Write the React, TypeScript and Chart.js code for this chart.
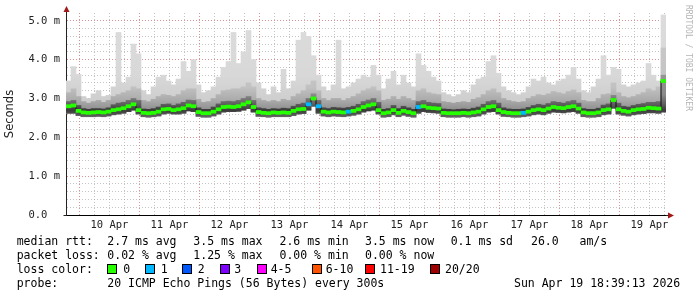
import React, { useEffect, useRef } from "react";
import { Chart, registerables } from "chart.js";

Chart.register(...registerables);

// ---- time axis (hours since Apr 9 00:00) ----
const START_HOUR = 18.65; // Apr 9 18:39
const END_HOUR = 258.65; // Apr 19 18:39
const STEP_HOURS = 2;

// ---- series (ms), one value per 2-hour column ----
const median = [
  2.80, 2.82, 2.68, 2.64, 2.63, 2.64, 2.65, 2.64, 2.66, 2.70,
  2.72, 2.75, 2.80, 2.85, 2.70, 2.63, 2.62, 2.63, 2.66, 2.72,
  2.73, 2.70, 2.72, 2.75, 2.82, 2.80, 2.65, 2.62, 2.62, 2.66,
  2.72, 2.78, 2.79, 2.78, 2.80, 2.85, 2.90, 2.78, 2.65, 2.63,
  2.62, 2.64, 2.63, 2.64, 2.63, 2.68, 2.72, 2.73, 2.85, 3.00,
  2.80, 2.66, 2.64, 2.66, 2.65, 2.64, 2.66, 2.68, 2.72, 2.78,
  2.82, 2.85, 2.70, 2.62, 2.64, 2.70, 2.63, 2.68, 2.65, 2.62,
  2.78, 2.80, 2.76, 2.75, 2.74, 2.63, 2.62, 2.62, 2.62, 2.63,
  2.62, 2.64, 2.66, 2.72, 2.78, 2.80, 2.70, 2.65, 2.63, 2.62,
  2.62, 2.63, 2.66, 2.70, 2.72, 2.70, 2.74, 2.78, 2.76, 2.75,
  2.78, 2.80, 2.74, 2.64, 2.62, 2.62, 2.64, 2.70, 2.72, 2.96,
  2.72, 2.68, 2.66, 2.70, 2.72, 2.73, 2.76, 2.75, 2.74, 3.45,
];

const pingMin = [
  2.62, 2.62, 2.56, 2.53, 2.53, 2.53, 2.54, 2.53, 2.55, 2.58,
  2.60, 2.62, 2.66, 2.70, 2.60, 2.53, 2.52, 2.53, 2.55, 2.60,
  2.62, 2.60, 2.60, 2.62, 2.68, 2.66, 2.54, 2.52, 2.52, 2.55,
  2.60, 2.65, 2.66, 2.66, 2.67, 2.70, 2.74, 2.65, 2.54, 2.53,
  2.52, 2.53, 2.53, 2.53, 2.53, 2.56, 2.60, 2.61, 2.70, 2.80,
  2.62, 2.55, 2.53, 2.55, 2.54, 2.53, 2.55, 2.57, 2.60, 2.65,
  2.68, 2.70, 2.60, 2.52, 2.53, 2.58, 2.53, 2.57, 2.54, 2.52,
  2.62, 2.66, 2.64, 2.63, 2.62, 2.53, 2.52, 2.52, 2.52, 2.53,
  2.52, 2.53, 2.55, 2.60, 2.65, 2.66, 2.60, 2.54, 2.53, 2.52,
  2.52, 2.53, 2.55, 2.58, 2.60, 2.58, 2.62, 2.65, 2.64, 2.63,
  2.65, 2.66, 2.62, 2.53, 2.52, 2.52, 2.53, 2.58, 2.60, 2.75,
  2.60, 2.57, 2.55, 2.58, 2.60, 2.61, 2.63, 2.63, 2.62, 2.65,
];

const pingP75 = [
  2.92, 2.95, 2.82, 2.74, 2.72, 2.74, 2.74, 2.73, 2.76, 2.84,
  2.88, 2.90, 2.95, 3.00, 2.95, 2.73, 2.72, 2.74, 2.78, 2.85,
  2.86, 2.82, 2.86, 2.90, 2.96, 2.95, 2.76, 2.72, 2.72, 2.78,
  2.86, 2.92, 2.93, 2.92, 2.95, 3.00, 3.05, 2.95, 2.76, 2.74,
  2.72, 2.74, 2.73, 2.75, 2.74, 2.80, 2.85, 2.88, 3.00, 3.12,
  2.95, 2.76, 2.74, 2.77, 2.76, 2.75, 2.77, 2.80, 2.85, 2.92,
  2.96, 3.00, 2.90, 2.72, 2.74, 2.82, 2.74, 2.80, 2.76, 2.72,
  2.92, 2.95, 2.90, 2.88, 2.87, 2.73, 2.72, 2.71, 2.72, 2.73,
  2.72, 2.75, 2.78, 2.85, 2.92, 2.95, 2.88, 2.76, 2.73, 2.72,
  2.72, 2.73, 2.77, 2.82, 2.85, 2.83, 2.87, 2.92, 2.90, 2.88,
  2.92, 2.95, 2.88, 2.74, 2.72, 2.72, 2.75, 2.83, 2.86, 3.08,
  2.88, 2.80, 2.78, 2.82, 2.85, 2.87, 2.90, 2.90, 2.92, 3.60,
];

const pingP90 = [
  3.15, 3.25, 3.05, 2.92, 2.88, 2.92, 2.95, 2.90, 2.95, 3.05,
  3.10, 3.15, 3.20, 3.30, 3.25, 2.95, 2.92, 2.98, 3.05, 3.10,
  3.08, 3.05, 3.10, 3.20, 3.25, 3.25, 2.98, 2.90, 2.92, 3.00,
  3.10, 3.20, 3.22, 3.25, 3.25, 3.30, 3.40, 3.30, 3.00, 2.95,
  2.92, 2.95, 2.92, 2.98, 2.95, 3.05, 3.12, 3.20, 3.35, 3.45,
  3.20, 3.00, 2.95, 3.00, 3.00, 2.95, 3.00, 3.05, 3.12, 3.20,
  3.25, 3.30, 3.20, 2.95, 2.98, 3.05, 2.98, 3.05, 3.00, 2.95,
  3.20, 3.25, 3.15, 3.12, 3.10, 2.92, 2.90, 2.88, 2.90, 2.92,
  2.90, 2.98, 3.02, 3.10, 3.20, 3.25, 3.15, 3.00, 2.95, 2.92,
  2.90, 2.92, 3.00, 3.05, 3.10, 3.08, 3.12, 3.18, 3.15, 3.12,
  3.18, 3.22, 3.15, 2.95, 2.92, 2.92, 3.00, 3.10, 3.12, 3.40,
  3.15, 3.05, 3.02, 3.05, 3.10, 3.15, 3.25, 3.20, 3.30, 4.30,
];

const pingMax = [
  3.45, 3.82, 3.62, 3.05, 3.00, 3.12, 3.20, 3.05, 3.08, 3.30,
  4.70, 3.40, 3.55, 4.40, 4.15, 3.20, 3.10, 3.30, 3.55, 3.60,
  3.45, 3.35, 3.50, 3.95, 3.70, 4.00, 3.35, 3.15, 3.20, 3.30,
  3.55, 3.80, 3.95, 4.70, 3.90, 4.20, 4.75, 4.00, 3.40, 3.25,
  3.10, 3.30, 3.15, 3.75, 3.25, 3.45, 4.50, 4.70, 4.60, 4.10,
  3.60, 3.30, 3.20, 3.35, 4.50, 3.25, 3.30, 3.40, 3.50, 3.60,
  3.55, 3.85, 3.60, 3.25, 3.50, 3.70, 3.35, 3.60, 3.40, 3.30,
  4.15, 3.85, 3.70, 3.55, 3.45, 3.15, 3.10, 3.05, 3.10, 3.20,
  3.15, 3.35, 3.50, 3.55, 3.95, 4.10, 3.65, 3.30, 3.20, 3.15,
  3.10, 3.15, 3.30, 3.50, 3.45, 3.55, 3.40, 3.35, 3.45, 3.50,
  3.60, 3.80, 3.50, 3.20, 3.15, 3.30, 3.50, 4.10, 3.60, 3.80,
  3.75, 3.35, 3.30, 3.35, 3.40, 3.45, 3.90, 3.60, 3.45, 5.15,
];

const lossCount = [
  0, 0, 0, 0, 0, 0, 0, 0, 0, 0,
  0, 0, 0, 0, 0, 0, 0, 0, 0, 0,
  0, 0, 0, 0, 0, 0, 0, 0, 0, 0,
  0, 0, 0, 0, 0, 0, 0, 0, 0, 0,
  0, 0, 0, 0, 0, 0, 0, 0, 1, 0,
  1, 0, 0, 0, 0, 0, 1, 0, 0, 0,
  0, 0, 0, 0, 0, 0, 0, 0, 0, 0,
  1, 0, 0, 0, 0, 0, 0, 0, 0, 0,
  0, 0, 0, 0, 0, 0, 0, 0, 0, 0,
  0, 1, 0, 0, 0, 0, 0, 0, 0, 0,
  0, 0, 0, 0, 0, 0, 0, 0, 0, 0,
  0, 0, 0, 0, 0, 0, 0, 0, 0, 0,
];

// ---- ticks ----
const yTickValues = [
  0, 0.2, 0.4, 0.6, 0.8, 1.0, 1.2, 1.4, 1.6, 1.8, 2.0, 2.2, 2.4, 2.6, 2.8,
  3.0, 3.2, 3.4, 3.6, 3.8, 4.0, 4.2, 4.4, 4.6, 4.8, 5.0,
];
const xTickHours = [
  24, 30, 36, 42, 48, 54, 60, 66, 72, 78, 84, 90, 96, 102, 108, 114, 120,
  126, 132, 138, 144, 150, 156, 162, 168, 174, 180, 186, 192, 198, 204, 210,
  216, 222, 228, 234, 240, 246, 252, 258,
];
const dayLabels = [
  "10 Apr", "11 Apr", "12 Apr", "13 Apr", "14 Apr",
  "15 Apr", "16 Apr", "17 Apr", "18 Apr", "19 Apr",
];

// ---- legend / text ----
const lossColors = ["#26ff00", "#00b8ff", "#0059ff", "#7e00ff", "#ff00ff", "#ff5500", "#ff0000", "#a10000"];
const lossLabels = ["0", "1", "2", "3", "4-5", "6-10", "11-19", "20/20"];
const rttItems = ["2.7 ms avg", "3.5 ms max", "2.6 ms min", "3.5 ms now", "0.1 ms sd", "26.0   am/s"];
const lossItems = ["0.02 % avg", "1.25 % max", "0.00 % min", "0.00 % now"];
const probeText = "20 ICMP Echo Pings (56 Bytes) every 300s";
const stampText = "Sun Apr 19 18:39:13 2026";

const MONO = "'DejaVu Sans Mono', monospace";
const statX = [107.3, 193.3, 279.5, 365, 450.7, 531];
const swatchX = [107.3, 144.7, 181.7, 219.5, 256.7, 312.3, 365, 430];
const swatchLabelX = [123.3, 160.7, 197.7, 234.3, 270.7, 325.7, 380, 445];

const MINOR = "rgba(150,150,150,0.55)";
const MAJOR = "rgba(210,110,110,0.75)";

// vertical shading for smoke bands (style only)
const darkStops: [number, string][] = [[2.5, "#6a6a6a"], [2.7, "#3a3a3a"], [2.85, "#5e5e5e"], [3.1, "#8a8a8a"], [3.8, "#9a9a9a"]];
const midStops: [number, string][] = [[2.7, "#8e8e8e"], [2.95, "#aaaaaa"], [3.3, "#c2c2c2"], [4.4, "#c8c8c8"]];
const lightStops: [number, string][] = [[3.0, "#cfcfcf"], [3.6, "#d8d8d8"], [5.2, "#dcdcdc"]];

function vGrad(stops: [number, string][]) {
  return (c: any) => {
    const chart = c.chart;
    if (!chart.chartArea) return stops[0][1];
    const y = chart.scales.y;
    const v0 = stops[0][0];
    const v1 = stops[stops.length - 1][0];
    const g = chart.ctx.createLinearGradient(0, y.getPixelForValue(v0), 0, y.getPixelForValue(v1));
    stops.forEach(([v, col]) => g.addColorStop((v - v0) / (v1 - v0), col));
    return g;
  };
}

const arrowPlugin = {
  id: "axisArrows",
  afterDraw(chart: any) {
    const { ctx, chartArea } = chart;
    const x0 = Math.round(chartArea.left) + 0.5;
    const y0 = Math.round(chartArea.bottom) + 0.5;
    ctx.save();
    ctx.strokeStyle = "#222";
    ctx.lineWidth = 1;
    ctx.beginPath();
    ctx.moveTo(x0, chartArea.top);
    ctx.lineTo(x0, chartArea.top - 2);
    ctx.moveTo(chartArea.right, y0);
    ctx.lineTo(chartArea.right + 3, y0);
    ctx.moveTo(x0 - 3, y0);
    ctx.lineTo(x0, y0);
    ctx.stroke();
    ctx.fillStyle = "#a01818";
    ctx.beginPath();
    ctx.moveTo(x0, chartArea.top - 7);
    ctx.lineTo(x0 - 3, chartArea.top - 1);
    ctx.lineTo(x0 + 3, chartArea.top - 1);
    ctx.closePath();
    ctx.fill();
    ctx.beginPath();
    ctx.moveTo(chartArea.right + 8, y0);
    ctx.lineTo(chartArea.right + 2, y0 - 3);
    ctx.lineTo(chartArea.right + 2, y0 + 3);
    ctx.closePath();
    ctx.fill();
    ctx.restore();
  },
};

function isInt(v: number) {
  return Math.abs(v - Math.round(v)) < 1e-6;
}

export default function App() {
  const canvasRef = useRef<HTMLCanvasElement>(null);

  useEffect(() => {
    const xs = median.map((_, i) => START_HOUR + STEP_HOURS * (i + 0.5));
    const band = (lo: number[], hi: number[]) => xs.map((x, i) => ({ x, y: [lo[i], hi[i]] }));
    const barCommon = {
      type: "bar" as const,
      grouped: false,
      barPercentage: 1,
      categoryPercentage: 1,
      borderWidth: 0,
    };

    const chart = new Chart(canvasRef.current!, {
      type: "bar",
      data: {
        datasets: [
          {
            ...barCommon,
            label: "median",
            data: xs.map((x, i) => ({ x, y: [median[i] - 0.04, median[i] + 0.04] })),
            backgroundColor: lossCount.map((l) => lossColors[l]),
            order: 0,
          } as any,
          {
            type: "line",
            label: "median step",
            data: xs.map((x, i) => ({ x, y: median[i] })),
            stepped: "middle",
            borderColor: "#111",
            borderWidth: 1,
            pointRadius: 0,
            order: 1,
          } as any,
          { ...barCommon, label: "p75", data: band(pingMin, pingP75), backgroundColor: vGrad(darkStops), order: 2 } as any,
          { ...barCommon, label: "p90", data: band(pingMin, pingP90), backgroundColor: vGrad(midStops), order: 3 } as any,
          { ...barCommon, label: "max", data: band(pingMin, pingMax), backgroundColor: vGrad(lightStops), order: 4 } as any,
        ],
      },
      options: {
        responsive: false,
        maintainAspectRatio: false,
        animation: false,
        devicePixelRatio: 1,
        layout: { padding: { left: 0, right: 31, top: 13, bottom: 62 } },
        plugins: { legend: { display: false }, tooltip: { enabled: false } },
        scales: {
          x: {
            type: "linear",
            min: START_HOUR,
            max: END_HOUR,
            offset: false,
            z: 1,
            afterBuildTicks: (s: any) => {
              s.ticks = xTickHours.map((v) => ({ value: v }));
            },
            afterFit: (s: any) => {
              s.height = 20;
            },
            grid: {
              offset: false,
              drawTicks: false,
              lineWidth: 1,
              color: (c: any) => (c.tick && c.tick.value % 24 === 0 ? MAJOR : MINOR),
            },
            border: { display: true, color: "#000", width: 1, dash: [1, 2] },
            ticks: {
              autoSkip: false,
              maxRotation: 0,
              padding: 4,
              color: "#222",
              font: { family: "DejaVu Sans Mono", size: 10.5 },
              callback: (v: any) => {
                const n = Number(v);
                return n % 24 === 12 ? dayLabels[(n - 36) / 24] : "";
              },
            },
          },
          y: {
            type: "linear",
            min: 0,
            max: 5.2,
            z: 1,
            afterBuildTicks: (s: any) => {
              s.ticks = yTickValues.map((v) => ({ value: v }));
            },
            afterFit: (s: any) => {
              s.width = 66;
            },
            grid: {
              drawTicks: false,
              lineWidth: 1,
              color: (c: any) => (c.tick && isInt(c.tick.value) ? MAJOR : MINOR),
            },
            border: { display: true, color: "#222", width: 1, dash: [1, 2] },
            ticks: {
              autoSkip: false,
              padding: 6,
              color: "#222",
              font: { family: "DejaVu Sans Mono", size: 10.5 },
              callback: (v: any) => {
                const n = Number(v);
                if (!isInt(n)) return "";
                return n === 0 ? "0.0  " : `${n.toFixed(1)} m`;
              },
            },
            title: {
              display: true,
              text: "Seconds",
              color: "#222",
              font: { family: "DejaVu Sans", size: 11.5 },
              padding: { top: 3, bottom: 0 },
            },
          },
        },
      } as any,
      plugins: [arrowPlugin],
    });
    return () => chart.destroy();
  }, []);

  const textStyle = (x: number, baseline: number): React.CSSProperties => ({
    position: "absolute",
    left: x,
    top: baseline - 11,
    fontFamily: MONO,
    fontSize: "11.5px",
    lineHeight: "14px",
    whiteSpace: "pre",
    color: "#000",
  });

  return (
    <div style={{ position: "fixed", left: 0, top: 0, width: 697, height: 297, background: "#fff", overflow: "hidden" }}>
      <canvas ref={canvasRef} width={697} height={297} style={{ position: "absolute", left: 0, top: 0, width: 697, height: 297 }} />
      <div
        style={{
          position: "absolute",
          left: 683,
          top: 5,
          writingMode: "vertical-rl",
          fontFamily: MONO,
          fontSize: "8px",
          lineHeight: "10px",
          color: "#b4b4b4",
          whiteSpace: "pre",
        }}
      >
        RRDTOOL / TOBI OETIKER
      </div>

      <span style={textStyle(16.7, 245)}>median rtt:</span>
      {rttItems.map((t, i) => (
        <span key={"r" + i} style={textStyle(statX[i], 245)}>{t}</span>
      ))}

      <span style={textStyle(16.7, 259)}>packet loss:</span>
      {lossItems.map((t, i) => (
        <span key={"l" + i} style={textStyle(statX[i], 259)}>{t}</span>
      ))}

      <span style={textStyle(16.7, 273)}>loss color:</span>
      {lossLabels.map((t, i) => (
        <React.Fragment key={"c" + i}>
          <div
            style={{
              position: "absolute",
              left: swatchX[i],
              top: 264,
              width: 10,
              height: 10,
              boxSizing: "border-box",
              border: "1px solid #000",
              background: lossColors[i],
            }}
          />
          <span style={textStyle(swatchLabelX[i], 273)}>{t}</span>
        </React.Fragment>
      ))}

      <span style={textStyle(16.7, 287)}>probe:</span>
      <span style={textStyle(107.3, 287)}>{probeText}</span>
      <span style={textStyle(514, 287)}>{stampText}</span>
    </div>
  );
}
